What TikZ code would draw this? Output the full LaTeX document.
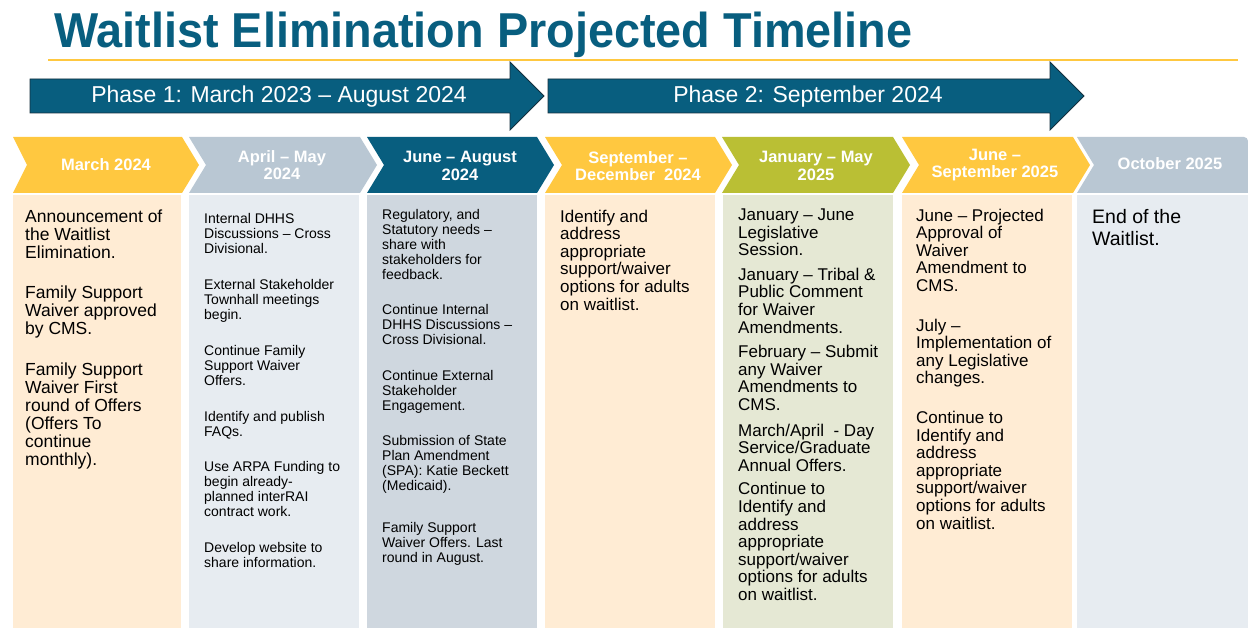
\documentclass[tikz,border=0pt]{standalone}
\usepackage{fontspec}
\setmainfont{Liberation Sans}
\definecolor{bleutitre}{RGB}{8,94,127}
\definecolor{bleuombre}{RGB}{20,48,62}
\definecolor{or}{RGB}{255,200,64}
\definecolor{gris}{RGB}{185,199,211}
\definecolor{vert}{RGB}{186,191,52}
\definecolor{peche}{RGB}{255,236,212}
\definecolor{grisclair}{RGB}{231,236,241}
\definecolor{grismoyen}{RGB}{207,215,223}
\definecolor{vertclair}{RGB}{229,232,212}
\tikzset{
  phase/.style={fill=bleutitre,draw=bleuombre,line width=0.8pt},
  entete/.style={text=white,font=\bfseries\fontsize{16.5}{17.5}\selectfont,align=center,inner sep=0pt},
  texte/.style={anchor=north west,align=left,inner sep=0pt,text=black},
  grand/.style={texte,font=\fontsize{17}{17.6}\selectfont},
  petit/.style={texte,font=\fontsize{14}{15}\selectfont}
}
\begin{document}
\begin{tikzpicture}[x=1pt,y=-1pt]
    \useasboundingbox (0,0) rectangle (1248,628);
    \fill[white] (0,0) rectangle (1248,628);
    \node[anchor=base west,inner sep=0pt,text=bleutitre,font=\bfseries\fontsize{49}{50}\selectfont] (titre) at (54,48) {\scalebox{0.955}[1]{Waitlist Elimination Projected Timeline}};
    \draw[or,line width=2pt] (48,60) -- (1238,60); %Ligne sous le titre
    \draw[phase] (30,79) -- (510,79) -- (510,62) -- (544,96) -- (510,130) -- (510,113) -- (30,113) -- cycle; %Phase 1
    \draw[phase] (548,79) -- (1050,79) -- (1050,62) -- (1084,96) -- (1050,130) -- (1050,113) -- (548,113) -- cycle; %Phase 2
    \node[text=white,font=\fontsize{23}{24}\selectfont,inner sep=0pt] (phaseun) at (279,97) {Phase 1: March 2023 – August 2024};
    \node[text=white,font=\fontsize{23}{24}\selectfont,inner sep=0pt] (phasedeux) at (808,97) {Phase 2: September 2024};
    \fill[or] (13,137) -- (182,137) -- (199,165) -- (182,193) -- (13,193) -- (27,165) -- cycle; %Chevron mars
    \fill[gris] (189,137) -- (360,137) -- (377,165) -- (360,193) -- (189,193) -- (206,165) -- cycle; %Chevron avril
    \fill[bleutitre] (367,137) -- (537,137) -- (554,165) -- (537,193) -- (367,193) -- (384,165) -- cycle; %Chevron juin
    \fill[or] (545,137) -- (715,137) -- (732,165) -- (715,193) -- (545,193) -- (562,165) -- cycle; %Chevron septembre
    \fill[vert] (722,137) -- (893,137) -- (910,165) -- (893,193) -- (722,193) -- (739,165) -- cycle; %Chevron janvier
    \fill[or] (902,137) -- (1073,137) -- (1090,165) -- (1073,193) -- (902,193) -- (919,165) -- cycle; %Chevron juin 2025
    \fill[gris] (1077,137) -- (1244,137) to[out=0,in=90] (1248,141) -- (1248,193) -- (1077,193) -- (1094,165) -- cycle; %Chevron octobre
    \fill[peche] (13,195) rectangle (181,628); %Colonnes
    \fill[grisclair] (189,195) rectangle (359,628);
    \fill[grismoyen] (367,195) rectangle (537,628);
    \fill[peche] (545,195) rectangle (715,628);
    \fill[vertclair] (723,195) rectangle (893,628);
    \fill[peche] (902,195) rectangle (1072,628);
    \fill[grisclair] (1077,195) rectangle (1248,628);
    \node[entete] (mars) at (106,165) {March 2024};
    \node[entete] (avril) at (282,165) {April – May\\2024};
    \node[entete] (juin) at (460,166) {June – August\\2024};
    \node[entete] (septembre) at (638,166) {September –\\December\ \ 2024};
    \node[entete] (janvier) at (816,166) {January – May\\2025};
    \node[entete] (juinbis) at (995,165) {June –\\September 2025};
    \node[entete] (octobre) at (1170,164) {October 2025};
    \node[grand,font=\fontsize{17.5}{18}\selectfont] (textemars) at (25,209.5) {Announcement of\\the Waitlist\\Elimination.\\[22pt]Family Support\\Waiver approved\\by CMS.\\[23pt]Family Support\\Waiver First\\round of Offers\\(Offers To\\continue\\monthly).};
    \node[petit] (texteavril) at (204,212.8) {Internal DHHS\\Discussions – Cross\\Divisional.\\[21pt]External Stakeholder\\Townhall meetings\\begin.\\[21pt]Continue Family\\Support Waiver\\Offers.\\[21pt]Identify and publish\\FAQs.\\[20pt]Use ARPA Funding to\\begin already-\\planned interRAI\\contract work.\\[21pt]Develop website to\\share information.};
    \node[petit] (textejuin) at (382,208.8) {Regulatory, and\\Statutory needs –\\share with\\stakeholders for\\feedback.\\[20pt]Continue Internal\\DHHS Discussions –\\Cross Divisional.\\[21pt]Continue External\\Stakeholder\\Engagement.\\[20pt]Submission of State\\Plan Amendment\\(SPA): Katie Beckett\\(Medicaid).\\[27pt]Family Support\\Waiver Offers. Last\\round in August.};
    \node[grand] (texteseptembre) at (560,209.6) {Identify and\\address\\appropriate\\support/waiver\\options for adults\\on waitlist.};
    \node[grand] (textejanvier) at (738,208.6) {January – June\\Legislative\\Session.\\[7pt]January – Tribal \&\\Public Comment\\for Waiver\\Amendments.\\[7pt]February – Submit\\any Waiver\\Amendments to\\CMS.\\[8pt]March/April\ \ - Day\\Service/Graduate\\Annual Offers.\\[6pt]Continue to\\Identify and\\address\\appropriate\\support/waiver\\options for adults\\on waitlist.};
    \node[grand] (textejuinbis) at (916,208.6) {June – Projected\\Approval of\\Waiver\\Amendment to\\CMS.\\[22pt]July –\\Implementation of\\any Legislative\\changes.\\[22pt]Continue to\\Identify and\\address\\appropriate\\support/waiver\\options for adults\\on waitlist.};
    \node[texte,font=\fontsize{19.5}{22}\selectfont] (texteoctobre) at (1092,209) {End of the\\Waitlist.};
\end{tikzpicture}
\end{document}
